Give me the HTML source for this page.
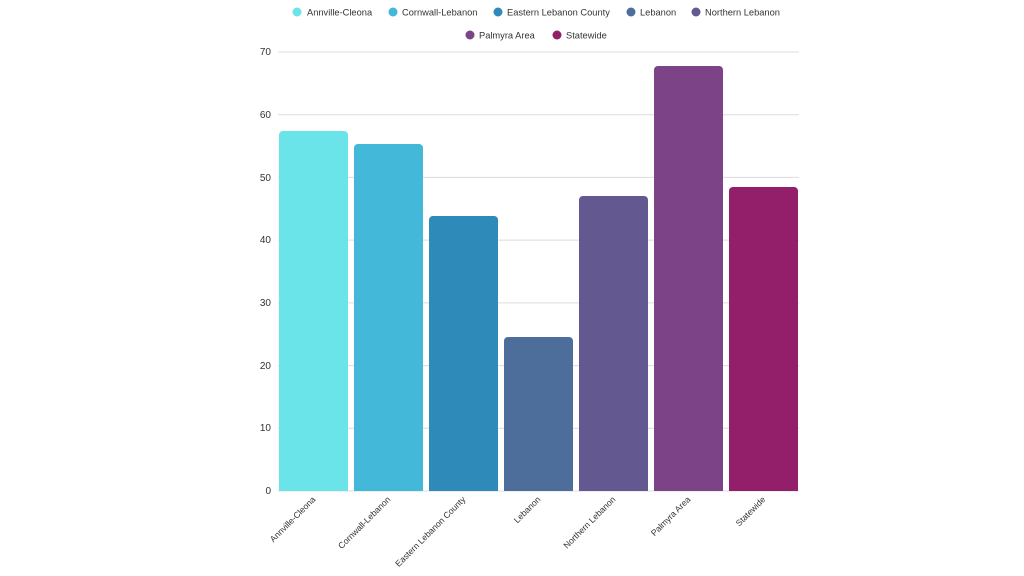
<!DOCTYPE html>
<html><head><meta charset="utf-8"><style>body{margin:0;background:#fff}svg{display:block}</style></head><body>
<svg width="1024" height="576" xmlns="http://www.w3.org/2000/svg" font-family="Liberation Sans, sans-serif">
<g stroke="#dcdcdc" stroke-width="1">
<line x1="278" x2="799" y1="52" y2="52"/><line x1="278" x2="799" y1="114.7" y2="114.7"/><line x1="278" x2="799" y1="177.4" y2="177.4"/><line x1="278" x2="799" y1="240.1" y2="240.1"/><line x1="278" x2="799" y1="302.9" y2="302.9"/><line x1="278" x2="799" y1="365.6" y2="365.6"/><line x1="278" x2="799" y1="428.3" y2="428.3"/><line x1="278" x2="799" y1="491" y2="491"/>
</g>
<g font-size="10" fill="#333" text-anchor="end">
<text x="271" y="55">70</text><text x="271" y="118">60</text><text x="271" y="181">50</text><text x="271" y="243">40</text><text x="271" y="306">30</text><text x="271" y="369">20</text><text x="271" y="431">10</text><text x="271" y="494">0</text>
</g>
<g>
<path d="M279,491V135a4,4 0 0 1 4,-4H344a4,4 0 0 1 4,4V491Z" fill="#6ae4e9"/>
<path d="M354,491V148a4,4 0 0 1 4,-4H419a4,4 0 0 1 4,4V491Z" fill="#43b8d8"/>
<path d="M429,491V220a4,4 0 0 1 4,-4H494a4,4 0 0 1 4,4V491Z" fill="#2e8ab9"/>
<path d="M504,491V341a4,4 0 0 1 4,-4H569a4,4 0 0 1 4,4V491Z" fill="#4d6e9a"/>
<path d="M579,491V200a4,4 0 0 1 4,-4H644a4,4 0 0 1 4,4V491Z" fill="#63588f"/>
<path d="M654,491V70a4,4 0 0 1 4,-4H719a4,4 0 0 1 4,4V491Z" fill="#7c4487"/>
<path d="M729,491V191a4,4 0 0 1 4,-4H794a4,4 0 0 1 4,4V491Z" fill="#931f6b"/>
</g>
<g font-size="8.6" fill="#333" text-anchor="end">
<text transform="translate(316,500) rotate(-45)">Annville-Cleona</text>
<text transform="translate(391,500) rotate(-45)">Cornwall-Lebanon</text>
<text transform="translate(466,500) rotate(-45)">Eastern Lebanon County</text>
<text transform="translate(541,500) rotate(-45)">Lebanon</text>
<text transform="translate(616,500) rotate(-45)">Northern Lebanon</text>
<text transform="translate(691,500) rotate(-45)">Palmyra Area</text>
<text transform="translate(766,500) rotate(-45)">Statewide</text>
</g>
<g font-size="9.3" fill="#333">
<circle cx="297" cy="12" r="4.5" fill="#6ae4e9"/><text x="307" y="15.3">Annville-Cleona</text>
<circle cx="393" cy="12" r="4.5" fill="#43b8d8"/><text x="402" y="15.3">Cornwall-Lebanon</text>
<circle cx="498" cy="12" r="4.5" fill="#2e8ab9"/><text x="507" y="15.3">Eastern Lebanon County</text>
<circle cx="631" cy="12" r="4.5" fill="#4d6e9a"/><text x="640" y="15.3">Lebanon</text>
<circle cx="696" cy="12" r="4.5" fill="#63588f"/><text x="705" y="15.3">Northern Lebanon</text>
<circle cx="470" cy="35" r="4.5" fill="#7c4487"/><text x="479" y="38.3">Palmyra Area</text>
<circle cx="557" cy="35" r="4.5" fill="#931f6b"/><text x="566" y="38.3">Statewide</text>
</g>
</svg>
</body></html>
